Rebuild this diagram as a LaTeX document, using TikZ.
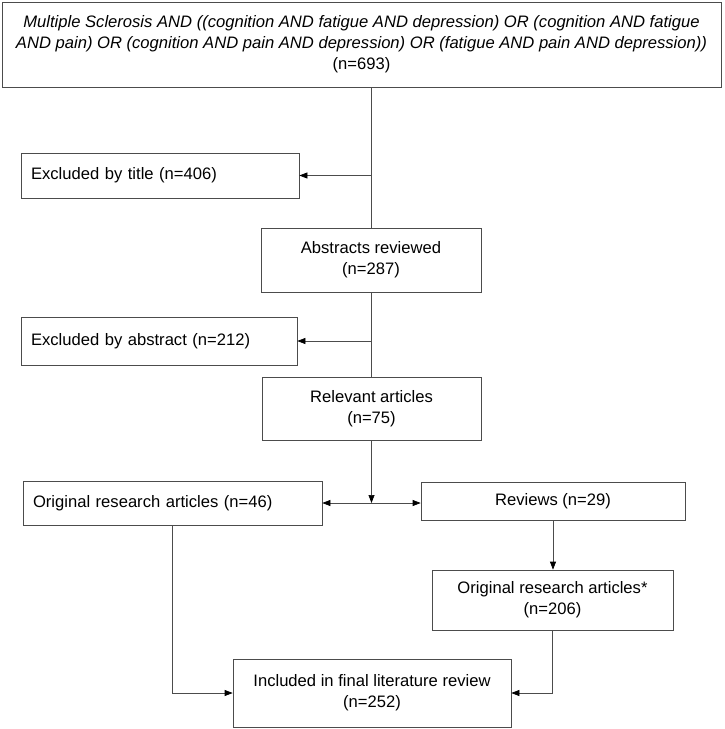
\documentclass[tikz,border=0pt]{standalone}
\usepackage{fontspec}
\setmainfont{Liberation Sans}
\usetikzlibrary{arrows.meta}
\begin{document}
\begin{tikzpicture}[x=1pt,y=-1pt,
  box/.style={draw=black!70, line width=0.7pt, fill=white, inner sep=0pt, align=center, font=\fontsize{16.6}{21}\selectfont},
  lbox/.style={box, align=left, inner xsep=10pt},
  conn/.style={draw=black!70, line width=0.7pt},
  arr/.style={conn, -{Triangle[length=8pt,width=6pt,color=black]}}]
\useasboundingbox (0,0) rectangle (724,729);
\node[box, minimum width=719pt, minimum height=85pt] (top) at (361.5,44.5)
  {\textit{Multiple Sclerosis AND ((cognition AND fatigue AND depression) OR (cognition AND fatigue}\\
   \textit{AND pain) OR (cognition AND pain AND depression) OR (fatigue AND pain AND depression))}\\
   (n=693)};
\node[lbox, text width=258pt, minimum height=45pt] (title) at (160,175.5) {Excluded by title (n=406)};
\node[box, minimum width=220pt, minimum height=64pt] (abs) at (371,260) {Abstracts reviewed\\(n=287)};
\node[lbox, text width=256pt, minimum height=48pt] (exabs) at (159,341) {Excluded by abstract (n=212)};
\node[box, minimum width=219pt, minimum height=63pt] (rel) at (371.5,408.5) {Relevant articles\\(n=75)};
\node[lbox, text width=279pt, minimum height=44pt] (orig) at (172.5,503) {Original research articles (n=46)};
\node[box, minimum width=264pt, minimum height=38pt] (rev) at (553,501) {Reviews (n=29)};
\node[box, minimum width=241pt, minimum height=60pt] (origs) at (552.5,600) {Original research articles*\\(n=206)};
\node[box, minimum width=278pt, minimum height=68pt] (inc) at (372,693) {Included in final literature review\\(n=252)};
\coordinate (j1) at (abs.north |- title.east);
\coordinate (j2) at (abs.south |- exabs.east);
\coordinate (split) at (rel.south |- orig.east);
\draw[conn] (abs.north |- top.south) -- (abs.north);
\draw[arr] (j1) -- (title.east);
\draw[conn] (abs.south) -- (abs.south |- rel.north);
\draw[arr] (j2) -- (exabs.east);
\draw[arr] (rel.south) -- (split);
\draw[arr] (split) -- (orig.east);
\draw[arr] (split) -- (rev.west |- split);
\draw[arr] (rev.south) -- (rev.south |- origs.north);
\draw[arr] (orig.south) |- (inc.west);
\draw[arr] (origs.south) |- (inc.east);
\end{tikzpicture}
\end{document}
